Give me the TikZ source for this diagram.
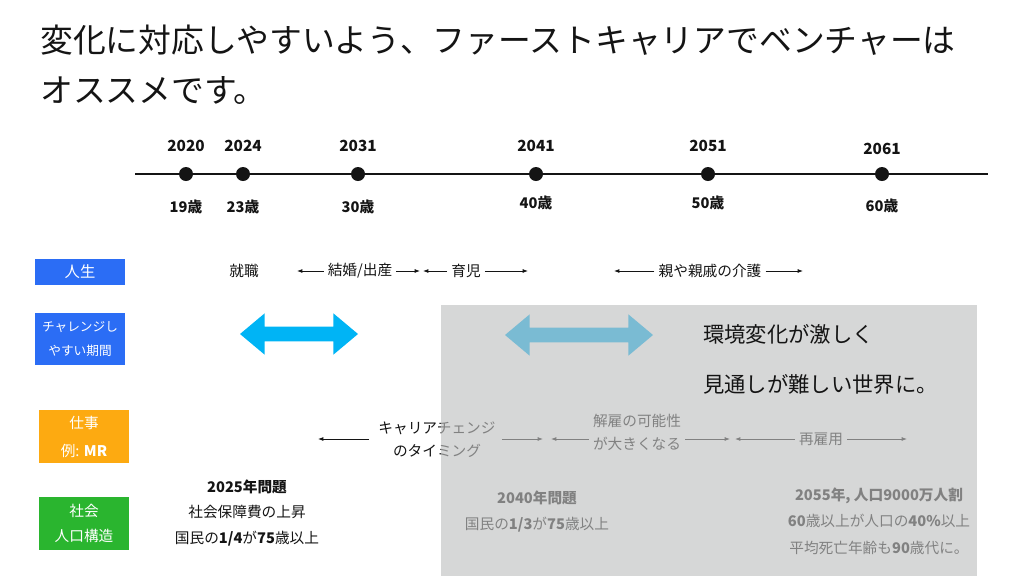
\documentclass[tikz,border=0pt]{standalone}
\usepackage{fontspec}
\setmainfont{Noto Sans CJK JP}
\usetikzlibrary{arrows.meta,shapes.arrows}

\definecolor{lifeblue}{RGB}{43,109,245}
\definecolor{workorange}{RGB}{253,170,17}
\definecolor{socgreen}{RGB}{42,181,47}
\definecolor{fatblue}{RGB}{0,180,245}
\definecolor{veilgray}{RGB}{191,192,192}
\definecolor{ink}{RGB}{20,20,20}

\newcommand{\fsz}[2]{\fontsize{#1}{#2}\selectfont}

\begin{document}
\begin{tikzpicture}[
  x=0.75pt, y=-0.75pt,
  tag/.style={rectangle, fill=#1, text=white, minimum width=67.5pt,
              minimum height=20pt, align=center, inner sep=0pt, font=\fsz{11}{20}},
  dot/.style={circle, fill=ink, inner sep=0pt, minimum size=10.5pt},
  yr/.style={font=\bfseries\fsz{11.5}{14}, text=ink},
  age/.style={font=\bfseries\fsz{11}{13}, text=ink},
  note/.style={font=\fsz{11}{19}, align=center, inner sep=3pt, text=ink},
  arr/.style={-{Latex[length=4pt,width=3pt]}, line width=0.7pt, draw=ink},
  fat/.style={double arrow, fill=fatblue, inner sep=0pt, inner ysep=5.25pt,
              double arrow head extend=9.75pt, double arrow tip angle=80,
              minimum width=31pt, minimum height=#1},
  veil/.style={fill=veilgray, fill opacity=0.64}
]
  \useasboundingbox (0,0) rectangle (1024,576);

  % Title
  \node[anchor=west, align=left, font=\fsz{24.6}{37.5}, text=ink, inner sep=0pt] (title) at (40,65)
    {変化に対応しやすいよう、ファーストキャリアでベンチャーは\\オススメです。};

  % Timeline
  \coordinate (tlL) at (135,174);
  \coordinate (tlR) at (988,174);
  \draw[line width=0.9pt, ink] (tlL) -- (tlR);
  \foreach \x/\yr/\yy/\ag/\ay [count=\i] in {186/2020/146/19/207, 243/2024/146/23/207,
      358/2031/146/30/207, 536/2041/146/40/203, 708/2051/146/50/203, 882/2061/149/60/206} {
    \node[dot] (d\i) at (\x,174) {};
    \node[yr] (y\i) at (\x,\yy) {\yr};
    \node[age] (a\i) at (\x,\ay) {\ag 歳};
  }

  % Rows
  \node[tag=lifeblue, minimum height=20pt, font=\fsz{11.5}{20}] (life) at (80,272) {人生};
  \node[tag=lifeblue, minimum height=39pt, font=\fsz{9.5}{18}] (chal) at (80,339) {チャレンジし\\やすい期間};
  \node[tag=workorange, minimum height=40pt, font=\fsz{11}{21}] (work) at (84,436.5) {仕事\\例: \textbf{MR}};
  \node[tag=socgreen, minimum height=40pt, font=\fsz{11}{19}] (soc) at (84,523.5) {社会\\人口構造};

  % Life events
  \node[note] (job) at (244,271) {就職};
  \node[note] (mar) at (360,271) {結婚/出産};
  \node[note] (kid) at (466,271) {育児};
  \node[note] (care) at (710,271) {親や親戚の介護};
  \coordinate (marL) at (297,271);  \coordinate (marR) at (420,271);
  \coordinate (kidL) at (423,271);  \coordinate (kidR) at (528,271);
  \coordinate (careL) at (614,271); \coordinate (careR) at (803,271);
  \draw[arr] (mar) -- (marL);
  \draw[arr] (mar) -- (marR);
  \draw[arr] (kid) -- (kidL);
  \draw[arr] (kid) -- (kidR);
  \draw[arr] (care) -- (careL);
  \draw[arr] (care) -- (careR);

  % Work events
  \node[note, font=\fsz{11}{17}] (chg) at (437,439.5) {キャリアチェンジ\\のタイミング};
  \node[note, font=\fsz{11}{17}] (fire) at (637,432.5) {解雇の可能性\\が大きくなる};
  \node[note] (rehire) at (821,439) {再雇用};
  \coordinate (chgL) at (318,439);   \coordinate (chgR) at (543,439);
  \coordinate (fireL) at (551,439);  \coordinate (fireR) at (730,439);
  \coordinate (rehL) at (735,439);   \coordinate (rehR) at (907,439);
  \draw[arr] (chg.west |- chgL) ++(-5,0) -- (chgL);
  \draw[arr] (chg.east |- chgR) ++(2,0) -- (chgR);
  \draw[arr] (fire.west |- fireL) -- (fireL);
  \draw[arr] (fire.east |- fireR) -- (fireR);
  \draw[arr] (rehire) -- (rehL);
  \draw[arr] (rehire) -- (rehR);

  % Society
  \node[note, font=\fsz{11}{19}] (p2025) at (247,513) {\textbf{2025年問題}\\社会保障費の上昇\\国民の\textbf{1/4}が\textbf{75}歳以上};
  \node[note, font=\fsz{11}{20}] (p2040) at (537,511.5) {\textbf{2040年問題}\\国民の\textbf{1/3}が\textbf{75}歳以上};
  \node[note, font=\fsz{11}{20}] (p2055) at (879,521) {\textbf{2055年, 人口9000万人割}\\\textbf{60}歳以上が人口の\textbf{40\%}以上\\平均死亡年齢も\textbf{90}歳代に。};

  % Challenge windows
  \node[fat=88.5pt] (win1) at (299,334) {};
  \node[fat=111pt] (win2) at (579,335) {};

  % Uncertain future
  \fill[veil] (441,305) rectangle (977,576);
  \node[anchor=west, font=\fsz{16}{20}, text=ink, inner sep=0pt] (env1) at (703,334) {環境変化が激しく};
  \node[anchor=west, font=\fsz{16}{20}, text=ink, inner sep=0pt] (env2) at (703,384) {見通しが難しい世界に。};
\end{tikzpicture}
\end{document}
